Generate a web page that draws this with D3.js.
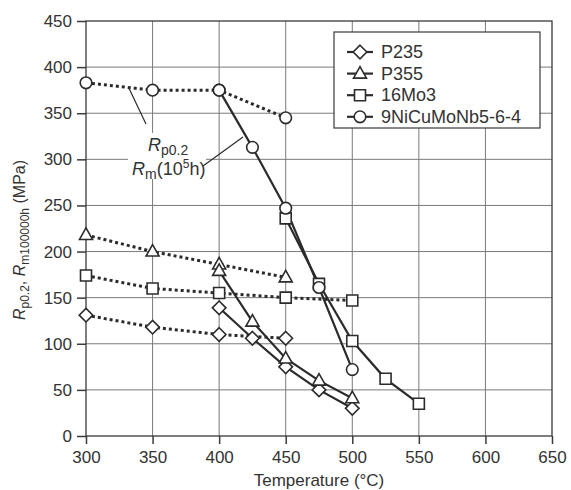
<!DOCTYPE html>
<html>
<head>
<meta charset="utf-8">
<script src="https://cdn.jsdelivr.net/npm/d3@7"></script>
<style>
  body { margin: 0; background: #fff; }
  svg text { font-family: Arial, "Liberation Sans", sans-serif; fill: #333; }
</style>
</head>
<body>
<div id="chart"></div>
<script>
// Data
var seriesNames = ["P235", "P355", "16Mo3", "9NiCuMoNb5-6-4"];
var seriesSymbols = ["diamond", "triangle", "square", "circle"];

// Rp0.2 (dotted)
var rpTemps = [
  [300, 350, 400, 450],
  [300, 350, 400, 450],
  [300, 350, 400, 450, 500],
  [300, 350, 400, 450]
];
var rpValues = [
  [131, 118, 110, 106],
  [218, 200, 186, 172],
  [174, 160, 155, 150, 147],
  [383, 375, 375, 345]
];

// Rm(10^5 h) (solid)
var rmTemps = [
  [400, 425, 450, 475, 500],
  [400, 425, 450, 475, 500],
  [450, 475, 500, 525, 550],
  [400, 425, 450, 475, 500]
];
var rmValues = [
  [139, 106, 75, 50, 30],
  [179, 124, 84, 60, 41],
  [236, 165, 103, 62, 35],
  [375, 313, 247, 161, 72]
];

var xTicks = [300, 350, 400, 450, 500, 550, 600, 650];
var yTicks = [0, 50, 100, 150, 200, 250, 300, 350, 400, 450];

// Settings
var width = 571, height = 490;
var pLeft = 86, pRight = 552, pTop = 21, pBottom = 436;
var ink = "#2b2b2b";

var svg = d3.select("#chart").append("svg")
  .attr("width", width)
  .attr("height", height);

var x = d3.scaleLinear().domain([300, 650]).range([pLeft, pRight]);
var y = d3.scaleLinear().domain([0, 450]).range([pBottom, pTop]);

// grid
svg.append("g").selectAll("line")
  .data(xTicks.slice(1, -1))
  .enter().append("line")
  .attr("x1", d => x(d)).attr("x2", d => x(d))
  .attr("y1", pTop).attr("y2", pBottom)
  .attr("stroke", "#7a7a7a").attr("stroke-width", 1);

svg.append("g").selectAll("line")
  .data(yTicks.slice(1, -1))
  .enter().append("line")
  .attr("x1", pLeft).attr("x2", pRight)
  .attr("y1", d => y(d)).attr("y2", d => y(d))
  .attr("stroke", "#7a7a7a").attr("stroke-width", 1);

// frame
svg.append("rect")
  .attr("x", pLeft).attr("y", pTop)
  .attr("width", pRight - pLeft).attr("height", pBottom - pTop)
  .attr("fill", "none").attr("stroke", "#3a3a3a").attr("stroke-width", 1.3);

// axes
var yAxis = svg.append("g")
  .attr("transform", "translate(" + pLeft + ",0)")
  .call(d3.axisLeft(y).tickValues(yTicks).tickSize(9).tickPadding(5));
var xAxis = svg.append("g")
  .attr("transform", "translate(0," + pBottom + ")")
  .call(d3.axisBottom(x).tickValues(xTicks).tickSize(8).tickPadding(7));

[yAxis, xAxis].forEach(function(a) {
  a.select(".domain").remove();
  a.selectAll(".tick line").attr("stroke", "#3a3a3a").attr("stroke-width", 1.5);
  a.selectAll(".tick text")
    .style("font-size", "17px")
    .style("font-family", "Arial, 'Liberation Sans', sans-serif")
    .attr("fill", "#333");
});

// axis titles
svg.append("text")
  .attr("x", (pLeft + pRight) / 2).attr("y", 486)
  .attr("text-anchor", "middle")
  .style("font-size", "17px")
  .text("Temperature (°C)");

var yl = svg.append("text")
  .attr("transform", "translate(25,240) rotate(-90)")
  .attr("text-anchor", "middle")
  .style("font-size", "16px");
yl.append("tspan").style("font-style", "italic").text("R");
yl.append("tspan").attr("dy", 4).style("font-size", "12px").text("p0.2");
yl.append("tspan").attr("dy", -4).text(", ");
yl.append("tspan").style("font-style", "italic").text("R");
yl.append("tspan").attr("dy", 4).style("font-size", "12px").text("m100000h");
yl.append("tspan").attr("dy", -4).text(" (MPa)");

// annotation
svg.append("rect")
  .attr("x", 128).attr("y", 133).attr("width", 78).attr("height", 46)
  .attr("fill", "#fff");
svg.append("line")
  .attr("x1", x(332)).attr("y1", y(378)).attr("x2", 146).attr("y2", 124)
  .attr("stroke", ink).attr("stroke-width", 1.2);
svg.append("line")
  .attr("x1", 243).attr("y1", 137).attr("x2", 203).attr("y2", 166)
  .attr("stroke", ink).attr("stroke-width", 1.2);

var a1 = svg.append("text").attr("x", 148).attr("y", 151).style("font-size", "18px");
a1.append("tspan").style("font-style", "italic").text("R");
a1.append("tspan").attr("dy", 4).style("font-size", "14px").text("p0.2");
var a2 = svg.append("text").attr("x", 132).attr("y", 175).style("font-size", "18px");
a2.append("tspan").style("font-style", "italic").text("R");
a2.append("tspan").attr("dy", 4).style("font-size", "14px").text("m");
a2.append("tspan").attr("dy", -4).text("(10");
a2.append("tspan").attr("dy", -7).style("font-size", "12px").text("5");
a2.append("tspan").attr("dy", 7).text("h)");

// symbols
var shapes = {
  diamond: { draw: function(c) { var s = 6.8; c.moveTo(0, -s); c.lineTo(s, 0); c.lineTo(0, s); c.lineTo(-s, 0); c.closePath(); } },
  triangle: { draw: function(c) { c.moveTo(0, -7); c.lineTo(6.5, 4.5); c.lineTo(-6.5, 4.5); c.closePath(); } },
  square: { draw: function(c) { var s = 5.5; c.rect(-s, -s, 2 * s, 2 * s); } },
  circle: { draw: function(c) { c.moveTo(5.8, 0); c.arc(0, 0, 5.8, 0, 2 * Math.PI); } }
};

var line = d3.line().x(d => x(d[0])).y(d => y(d[1]));

function pairs(t, v) { return t.map(function(d, i) { return [d, v[i]]; }); }

seriesNames.forEach(function(name, i) {
  var rp = pairs(rpTemps[i], rpValues[i]);
  var rm = pairs(rmTemps[i], rmValues[i]);
  svg.append("path").datum(rp)
    .attr("d", line).attr("fill", "none")
    .attr("stroke", ink).attr("stroke-width", 3).attr("stroke-dasharray", "3,3");
  svg.append("path").datum(rm)
    .attr("d", line).attr("fill", "none")
    .attr("stroke", ink).attr("stroke-width", 2.2);
});

seriesNames.forEach(function(name, i) {
  var pts = pairs(rpTemps[i], rpValues[i]).concat(pairs(rmTemps[i], rmValues[i]));
  svg.append("g").selectAll("path")
    .data(pts).enter().append("path")
    .attr("d", d3.symbol().type(shapes[seriesSymbols[i]]))
    .attr("transform", d => "translate(" + x(d[0]) + "," + y(d[1]) + ")")
    .attr("fill", "#fff").attr("stroke", ink).attr("stroke-width", 1.6);
});

// legend
var lg = svg.append("g");
lg.append("rect")
  .attr("x", 334).attr("y", 32).attr("width", 206).attr("height", 96)
  .attr("fill", "#fff").attr("stroke", "#3a3a3a").attr("stroke-width", 1.2);
var rows = lg.selectAll("g").data(seriesNames).enter().append("g")
  .attr("transform", (d, i) => "translate(0," + (52 + i * 21.6) + ")");
rows.append("line").attr("x1", 347).attr("x2", 373)
  .attr("stroke", ink).attr("stroke-width", 2.2);
rows.append("path")
  .attr("d", (d, i) => d3.symbol().type(shapes[seriesSymbols[i]])())
  .attr("transform", "translate(360,0)")
  .attr("fill", "#fff").attr("stroke", ink).attr("stroke-width", 1.6);
rows.append("text").attr("x", 381).attr("y", 6)
  .style("font-size", "18px")
  .text(d => d);
</script>
</body>
</html>
